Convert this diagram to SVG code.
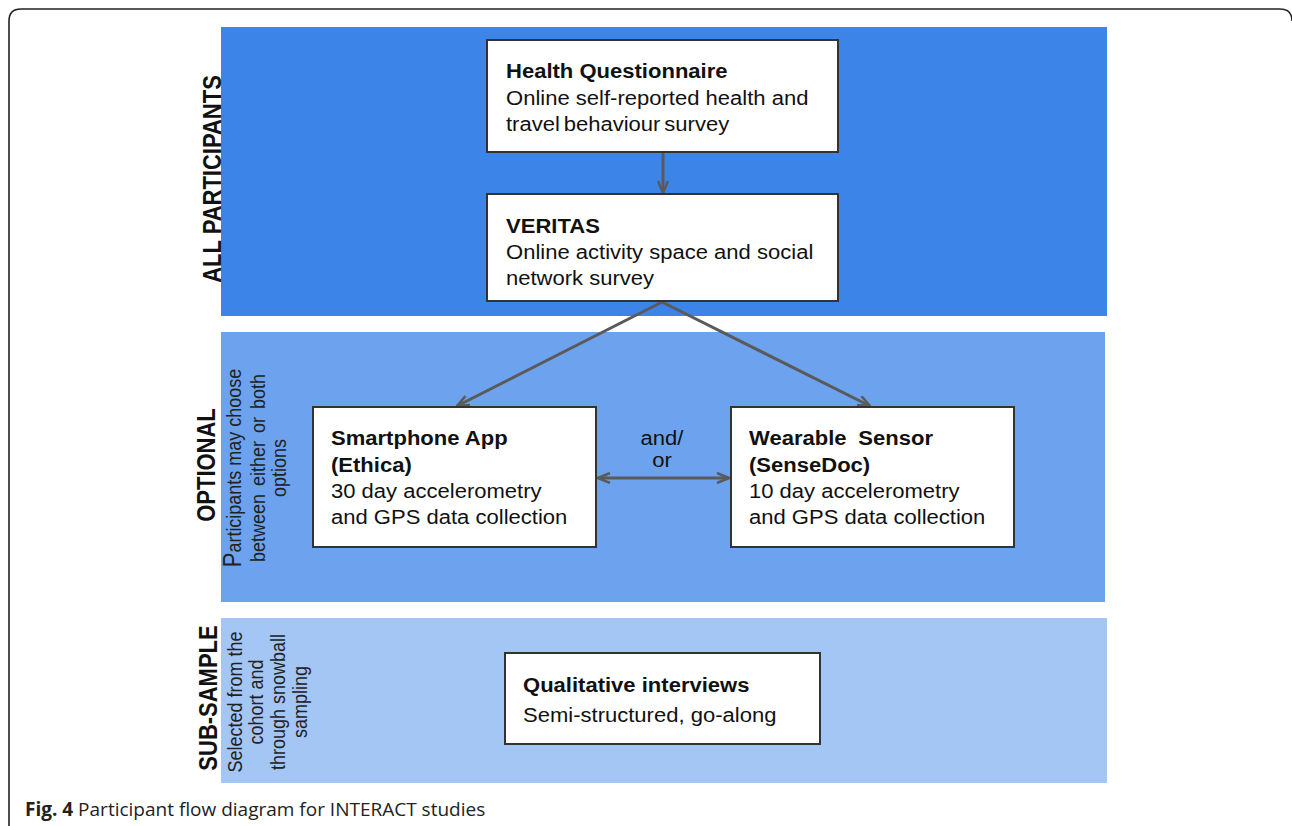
<svg xmlns="http://www.w3.org/2000/svg" width="1292" height="826" viewBox="0 0 1292 826">
  <style>
    .band1 { fill: #3d84e8; }
    .band2 { fill: #6ca2ee; }
    .band3 { fill: #a4c6f5; }
    .box { fill: #ffffff; stroke: #333333; stroke-width: 2; }
    .t { font-family: "Liberation Sans", Arial, sans-serif; font-size: 19.5px; fill: #111111; }
    .b { font-weight: bold; }
    .lab { font-family: "Liberation Sans", Arial, sans-serif; font-size: 22px; font-weight: bold; fill: #111111; text-anchor: middle; }
    .sub { font-family: "Liberation Sans", Arial, sans-serif; font-size: 18px; fill: #222222; text-anchor: middle; }
    .conn { stroke: #5a5a5a; stroke-width: 3; fill: none; }
    .cap { font-family: "Open Sans", "Liberation Sans", sans-serif; font-size: 19px; fill: #222222; }
  </style>
  <defs>
    <marker id="arrow" viewBox="0 0 14 12" refX="13" refY="6" markerWidth="14" markerHeight="12" markerUnits="userSpaceOnUse" orient="auto-start-reverse">
      <path d="M1,1 L13,6 L1,11" fill="none" stroke="#5a5a5a" stroke-width="2.5" stroke-linejoin="miter"/>
    </marker>
  </defs>

  <rect width="1292" height="826" fill="#ffffff"/>
  <!-- page frame, open at the bottom -->
  <path d="M9,826 V21 Q9,9 21,9 H1280 Q1292,9 1292,21" fill="none" stroke="#222222" stroke-width="1.6"/>

  <!-- phase bands -->
  <g id="band-all">
    <rect class="band1" x="221" y="27" width="886" height="289"/>
    <text class="lab" transform="translate(221 179) scale(1.15 1) rotate(-90)">ALL PARTICIPANTS</text>
  </g>
  <g id="band-optional">
    <rect class="band2" x="221" y="332" width="884" height="270"/>
    <text class="lab" transform="translate(215 465) scale(1.15 1) rotate(-90)">OPTIONAL</text>
    <text class="sub" transform="translate(241 468) scale(1.15 1) rotate(-90)"><tspan font-size="22px">P</tspan>articipants may choose</text>
    <text class="sub" transform="translate(265 468) scale(1.15 1) rotate(-90)" word-spacing="3">between either or both</text>
    <text class="sub" transform="translate(286 468) scale(1.15 1) rotate(-90)">options</text>
  </g>
  <g id="band-subsample">
    <rect class="band3" x="221" y="618" width="886" height="165"/>
    <text class="lab" transform="translate(217 698) scale(1.15 1) rotate(-90)">SUB-SAMPLE</text>
    <text class="sub" transform="translate(242 702) scale(1.15 1) rotate(-90)">Selected from the</text>
    <text class="sub" transform="translate(263 702) scale(1.15 1) rotate(-90)">cohort and</text>
    <text class="sub" transform="translate(285 702) scale(1.15 1) rotate(-90)">through snowball</text>
    <text class="sub" transform="translate(307 702) scale(1.15 1) rotate(-90)">sampling</text>
  </g>

  <!-- connectors -->
  <g id="connectors">
    <line class="conn" x1="663" y1="153" x2="663" y2="193" marker-end="url(#arrow)"/>
    <line class="conn" x1="662" y1="302" x2="457" y2="406" marker-end="url(#arrow)"/>
    <line class="conn" x1="662" y1="302" x2="870" y2="406" marker-end="url(#arrow)"/>
    <line class="conn" x1="598" y1="478" x2="729" y2="478" marker-start="url(#arrow)" marker-end="url(#arrow)"/>
    <text class="t" transform="translate(662 445) scale(1.13 1)" text-anchor="middle" font-size="18px">and/</text>
    <text class="t" transform="translate(662 467) scale(1.13 1)" text-anchor="middle" font-size="18px">or</text>
  </g>

  <!-- nodes -->
  <g id="health-questionnaire">
    <rect class="box" x="487" y="40" width="351" height="112"/>
    <text class="t" transform="translate(506 78) scale(1.13 1)"><tspan class="b" x="0" y="0">Health Questionnaire</tspan><tspan x="0" y="27">Online self-reported health and</tspan><tspan x="0" y="53" word-spacing="-2">travel behaviour survey</tspan></text>
  </g>
  <g id="veritas">
    <rect class="box" x="487" y="194" width="351" height="107"/>
    <text class="t" transform="translate(506 233) scale(1.13 1)"><tspan class="b" x="0" y="0">VERITAS</tspan><tspan x="0" y="26">Online activity space and social</tspan><tspan x="0" y="52">network survey</tspan></text>
  </g>
  <g id="smartphone-app">
    <rect class="box" x="313" y="407" width="283" height="140"/>
    <text class="t" transform="translate(331 445) scale(1.13 1)"><tspan class="b" x="0" y="0">Smartphone App</tspan><tspan class="b" x="0" y="27">(Ethica)</tspan><tspan x="0" y="53">30 day accelerometry</tspan><tspan x="0" y="79">and GPS data collection</tspan></text>
  </g>
  <g id="wearable-sensor">
    <rect class="box" x="731" y="407" width="283" height="140"/>
    <text class="t" transform="translate(749 445) scale(1.13 1)"><tspan class="b" x="0" y="0" word-spacing="5">Wearable Sensor</tspan><tspan class="b" x="0" y="27">(SenseDoc)</tspan><tspan x="0" y="53">10 day accelerometry</tspan><tspan x="0" y="79">and GPS data collection</tspan></text>
  </g>
  <g id="qualitative-interviews">
    <rect class="box" x="505" y="653" width="315" height="91"/>
    <text class="t" transform="translate(523 692) scale(1.13 1)"><tspan class="b" x="0" y="0">Qualitative interviews</tspan><tspan x="0" y="30">Semi-structured, go-along</tspan></text>
  </g>

  <!-- caption -->
  <text class="cap" x="25" y="816"><tspan font-weight="bold">Fig. 4</tspan> Participant flow diagram for INTERACT studies</text>
</svg>
